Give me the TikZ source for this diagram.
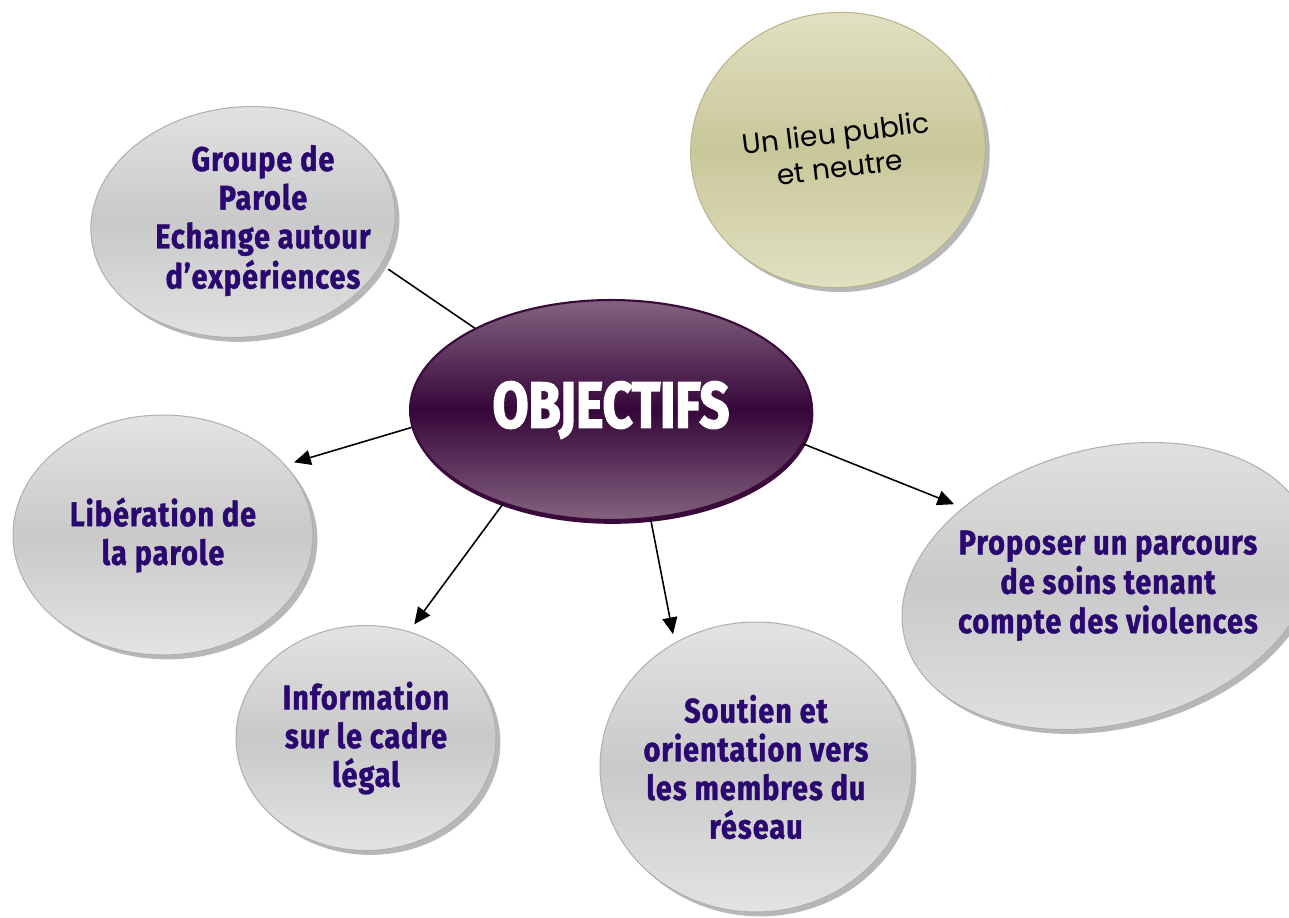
\documentclass[tikz,border=0pt]{standalone}
\usepackage{fontspec}
\setmainfont{Fira Sans}
\newfontfamily\bullefont[FakeStretch=0.84,FakeBold=1.2,LetterSpace=3]{Fira Sans}
\newfontfamily\titrefont[FakeStretch=0.8,FakeBold=2.5]{Fira Sans}
\newfontfamily\lieufont{Poppins}
\usetikzlibrary{shapes.geometric,shadows,arrows.meta}
\definecolor{encre}{HTML}{2A0870}
\definecolor{grisclair}{HTML}{E3E3E3}
\definecolor{grisfonce}{HTML}{C9C9C9}
\definecolor{grisbord}{HTML}{B0B0B0}
\definecolor{ombre}{HTML}{707070}
\definecolor{violetclair}{HTML}{84627F}
\definecolor{violetfonce}{HTML}{36073A}
\definecolor{violetombre}{HTML}{3A0A3A}
\definecolor{olive}{HTML}{C8C79A}
\definecolor{oliveclair}{HTML}{E3E2C4}
\definecolor{olivebord}{HTML}{B5B48A}
\begin{document}
\begin{tikzpicture}[x=0.02cm, y=-0.02cm,
    bulle/.style={ellipse, draw=grisbord, line width=0.6pt, inner sep=-40pt, outer sep=5pt,
        top color=grisclair, bottom color=grisclair, middle color=grisfonce,
        drop shadow={shadow xshift=2.5pt, shadow yshift=-2.5pt, fill=ombre},
        text=encre, align=center,
        font=\bullefont\bfseries\fontsize{19.5pt}{22pt}\selectfont},
    fleche/.style={-{Triangle[length=9.5pt,width=8.5pt]}, line width=0.9pt}]
    \useasboundingbox (0,0) rectangle (1289,917);

    % Bulles autour
    \node[bulle, minimum width=6.1cm, minimum height=4.6cm, rotate=6] (groupe) at (243,222)
        {\rotatebox{-6}{\hspace*{0.8cm}\begin{tabular}{@{}c@{}}Groupe de\\Parole\\Echange autour\\d’expériences\end{tabular}}};
    \node[bulle, minimum width=6cm, minimum height=4.8cm] (lib) at (163,535)
        {Libération de\\la parole};
    \node[bulle, minimum width=5.2cm, minimum height=4.5cm] (info) at (366,738)
        {Information\\sur le cadre\\légal};
    \node[bulle, minimum width=6.24cm, minimum height=5.8cm] (sou) at (756,767)
        {Soutien et\\orientation vers\\les membres du\\réseau};
    \node[bulle, minimum width=8.4cm, minimum height=5.5cm, rotate=15] (prop) at (1108,586)
        {\rotatebox{-15}{\begin{tabular}{@{}c@{}}Proposer un parcours\\de soins tenant\\compte des violences\end{tabular}}};

    % Lieu public
    \node[ellipse, draw=olivebord, line width=0.6pt, inner sep=-20pt, rotate=7,
        minimum width=5.9cm, minimum height=5.5cm,
        top color=oliveclair, bottom color=oliveclair, middle color=olive,
        drop shadow={shadow xshift=2.5pt, shadow yshift=-2.5pt, fill=ombre},
        align=center, font=\lieufont\fontsize{16pt}{19.5pt}\selectfont] (lieu) at (838,150)
        {Un lieu public\\et neutre};

    % Bulle centrale
    \node[ellipse, draw=violetombre, line width=1.2pt, inner sep=-20pt,
        minimum width=8.04cm, minimum height=4.4cm,
        top color=violetclair, bottom color=violetclair, middle color=violetfonce,
        drop shadow={shadow xshift=0.8pt, shadow yshift=-2.2pt, fill=violetombre, opacity=1},
        text=white, font=\titrefont\bfseries\fontsize{37pt}{40pt}\selectfont] (obj) at (611,410)
        {OBJECTIFS};

    % Liaisons
    \draw[line width=0.9pt] (groupe.-24) -- (obj.149);
    \draw[fleche] (obj.-175) -- (lib.29);
    \draw[fleche] (obj.-139) -- (info.67);
    \draw[fleche] (obj.-70) -- (sou.122);
    \draw[fleche] (obj.-10) -- (prop.137);
\end{tikzpicture}
\end{document}
